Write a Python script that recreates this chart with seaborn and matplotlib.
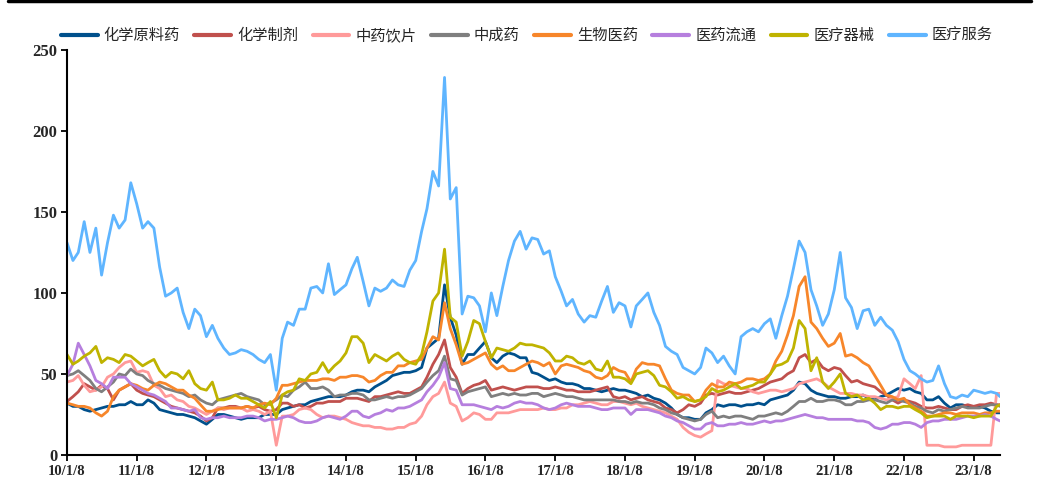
import numpy as np
import pandas as pd
import matplotlib
matplotlib.use("Agg")
import matplotlib.pyplot as plt
import seaborn as sns
from matplotlib.lines import Line2D

sns.set_theme(style="white")
plt.rcParams['font.family'] = ['Noto Sans CJK SC', 'DejaVu Sans']

# ---------------- data (monthly readings, 2010-01 .. 2023-05, plus last point) -------------
dates = list(pd.date_range("2010-01-08", periods=161, freq=pd.DateOffset(months=1))) + [pd.Timestamp("2023-05-26")]

series_names = ["化学原料药", "化学制剂", "中药饮片", "中成药", "生物医药", "医药流通", "医疗器械", "医疗服务"]
series_colors = ["#00508C", "#C0504D", "#FF9A9A", "#7F7F7F", "#F7862A", "#B67FDE", "#BFB300", "#5FB5FF"]

chem_api = [32, 30, 30, 28, 27, 28, 29, 30, 30, 31, 31, 33,
            31, 31, 34, 32, 28, 27, 26, 25, 25, 24, 23, 21,
            19, 22, 25, 25, 24, 23, 22, 23, 23, 23, 25, 25,
            25, 28, 29, 30, 31, 31, 33, 34, 35, 36, 36, 36,
            37, 39, 40, 40, 39, 42, 44, 46, 49, 50, 51, 51,
            52, 54, 66, 69, 72, 105, 85, 74, 56, 62, 62, 66,
            70, 60, 57, 61, 63, 62, 60, 60, 51, 50, 48, 46,
            47, 45, 44, 44, 43, 41, 41, 40, 39, 40, 41, 40,
            40, 39, 38, 36, 37, 35, 34, 32, 29, 25, 23, 23,
            22, 22, 26, 28, 31, 30, 31, 31, 30, 31, 31, 32,
            31, 34, 35, 36, 37, 40, 45, 44, 40, 38, 37, 36,
            36, 35, 35, 36, 36, 37, 35, 34, 36, 37, 39, 41,
            40, 41, 39, 38, 34, 34, 36, 32, 29, 31, 31, 30,
            30, 30, 29, 27, 26, 26]

chem_prep = [33, 36, 39, 44, 42, 40, 43, 41, 34, 40, 42, 44,
             40, 38, 37, 36, 34, 32, 30, 29, 28, 27, 26, 24,
             21, 23, 29, 29, 30, 30, 29, 30, 29, 30, 28, 27,
             28, 32, 32, 30, 31, 29, 30, 32, 32, 33, 33, 33,
             35, 35, 35, 34, 33, 36, 36, 37, 38, 39, 38, 38,
             40, 42, 48, 56, 62, 71, 54, 48, 38, 41, 43, 44,
             46, 40, 41, 42, 41, 40, 41, 42, 42, 42, 41, 41,
             42, 41, 40, 40, 39, 39, 39, 40, 41, 42, 36, 35,
             36, 34, 35, 36, 34, 33, 32, 29, 28, 26, 28, 31,
             30, 32, 37, 38, 37, 38, 39, 38, 38, 39, 40, 41,
             43, 45, 46, 47, 50, 52, 60, 62, 57, 59, 54, 52,
             54, 53, 49, 45, 46, 44, 43, 42, 39, 37, 34, 32,
             34, 33, 32, 30, 29, 29, 30, 29, 28, 28, 30, 31,
             30, 31, 31, 32, 31, 31]

tcm_pieces = [45, 46, 49, 43, 39, 40, 42, 48, 50, 54, 57, 58,
              51, 52, 51, 43, 41, 36, 37, 34, 33, 30, 29, 27,
              25, 27, 29, 28, 29, 29, 29, 27, 28, 27, 25, 27,
              6, 24, 24, 25, 28, 29, 28, 25, 23, 24, 24, 23,
              22, 20, 19, 18, 18, 17, 17, 16, 16, 17, 17, 19,
              20, 24, 31, 36, 38, 45, 32, 30, 21, 23, 26, 25,
              22, 22, 26, 26, 26, 27, 28, 28, 28, 28, 29, 28,
              28, 29, 29, 31, 31, 32, 33, 32, 31, 31, 33, 33,
              32, 31, 32, 30, 29, 28, 27, 26, 24, 22, 17, 14,
              12, 11, 13, 15, 46, 44, 43, 42, 41, 41, 39, 38,
              39, 40, 40, 39, 40, 41, 44, 45, 46, 47, 45, 42,
              40, 38, 38, 38, 37, 37, 36, 36, 35, 34, 35, 36,
              47, 44, 41, 49, 6, 6, 6, 5, 5, 5, 6, 6,
              6, 6, 6, 6, 38, 38]

tcm_patent = [49, 50, 52, 49, 46, 41, 39, 42, 45, 50, 49, 53,
              50, 49, 46, 44, 43, 41, 40, 39, 38, 36, 37, 34,
              32, 31, 34, 35, 36, 37, 38, 36, 35, 34, 31, 32,
              34, 37, 36, 40, 42, 45, 41, 41, 42, 40, 36, 37,
              37, 38, 38, 37, 34, 34, 35, 36, 35, 36, 36, 37,
              39, 41, 45, 49, 52, 61, 47, 46, 37, 39, 40, 41,
              42, 36, 37, 38, 37, 38, 37, 37, 38, 38, 36, 37,
              38, 37, 36, 36, 35, 34, 34, 34, 34, 34, 34, 33,
              33, 32, 33, 32, 32, 31, 29, 28, 26, 25, 23, 22,
              21, 22, 25, 27, 23, 24, 23, 24, 24, 23, 22, 24,
              24, 25, 26, 25, 27, 30, 33, 33, 35, 33, 33, 34,
              34, 33, 31, 31, 33, 33, 34, 34, 33, 32, 34, 34,
              33, 32, 30, 29, 27, 26, 28, 27, 28, 29, 30, 29,
              29, 29, 30, 31, 31, 30]

biomed = [32, 31, 30, 30, 29, 26, 24, 27, 36, 40, 42, 44,
          43, 41, 40, 43, 45, 44, 42, 40, 40, 37, 35, 31,
          27, 27, 28, 29, 29, 29, 29, 30, 29, 31, 32, 31,
          35, 43, 43, 44, 45, 46, 46, 46, 47, 47, 46, 48,
          48, 49, 49, 48, 45, 46, 49, 51, 51, 55, 55, 57,
          58, 59, 66, 73, 71, 94, 78, 68, 56, 57, 59, 61,
          63, 56, 53, 55, 52, 52, 54, 56, 58, 57, 55, 57,
          50, 55, 56, 55, 54, 52, 51, 48, 47, 49, 54, 52,
          51, 45, 53, 57, 56, 56, 55, 47, 40, 38, 37, 37,
          33, 34, 40, 44, 42, 42, 45, 44, 45, 47, 47, 46,
          47, 50, 58, 64, 74, 86, 104, 110, 82, 78, 72, 67,
          69, 75, 61, 62, 60, 57, 55, 49, 43, 37, 36, 34,
          35, 31, 29, 27, 24, 24, 25, 26, 26, 25, 26, 26,
          26, 25, 26, 26, 27, 27]

distribution = [49, 56, 69, 62, 55, 46, 44, 41, 48, 48, 48, 44,
                42, 40, 38, 37, 35, 33, 29, 29, 28, 27, 28, 23,
                22, 23, 23, 24, 23, 23, 23, 24, 24, 23, 21, 22,
                22, 23, 24, 23, 21, 20, 20, 21, 23, 24, 23, 22,
                24, 27, 27, 24, 23, 25, 26, 28, 27, 29, 29, 30,
                32, 34, 39, 43, 48, 57, 41, 40, 31, 31, 31, 30,
                29, 28, 30, 29, 30, 32, 33, 32, 32, 31, 29, 28,
                29, 31, 32, 31, 30, 30, 30, 29, 28, 28, 29, 29,
                29, 25, 28, 28, 28, 27, 26, 24, 23, 21, 20, 18,
                16, 16, 19, 20, 18, 18, 19, 19, 20, 19, 19, 20,
                21, 20, 21, 21, 22, 23, 24, 25, 24, 23, 23, 22,
                22, 22, 22, 22, 21, 21, 20, 17, 16, 17, 19, 19,
                20, 20, 19, 17, 20, 21, 21, 22, 22, 22, 23, 24,
                24, 24, 25, 24, 22, 21]

devices = [62, 56, 58, 61, 63, 67, 57, 60, 59, 57, 62, 61,
           58, 55, 57, 59, 52, 48, 51, 50, 47, 52, 44, 41,
           40, 45, 34, 34, 35, 37, 35, 35, 33, 31, 29, 33,
           23, 37, 39, 40, 47, 46, 50, 51, 57, 51, 55, 58,
           63, 73, 73, 69, 57, 62, 60, 58, 61, 63, 59, 57,
           56, 62, 76, 95, 100, 127, 85, 82, 61, 70, 83, 81,
           70, 60, 66, 65, 64, 66, 69, 68, 68, 67, 66, 63,
           58, 58, 61, 60, 57, 56, 58, 53, 52, 58, 48, 48,
           47, 44, 50, 51, 52, 49, 43, 42, 39, 35, 36, 34,
           33, 34, 36, 41, 39, 40, 42, 44, 41, 42, 43, 45,
           45, 50, 55, 56, 58, 66, 83, 78, 52, 60, 45, 41,
           45, 50, 38, 36, 37, 34, 35, 32, 28, 30, 30, 29,
           30, 30, 28, 26, 23, 24, 24, 24, 22, 24, 24, 24,
           23, 24, 24, 24, 30, 31]

services = [131, 120, 125, 144, 125, 140, 111, 131, 148, 140, 145, 168,
            155, 140, 144, 140, 116, 98, 100, 103, 88, 78, 90, 86,
            73, 80, 72, 66, 62, 63, 65, 64, 62, 59, 57, 62,
            40, 72, 82, 80, 90, 90, 103, 104, 100, 118, 99, 102,
            105, 115, 122, 107, 92, 103, 101, 103, 108, 105, 104, 114,
            120, 138, 152, 175, 166, 233, 158, 165, 87, 98, 97, 92,
            76, 100, 86, 104, 120, 132, 138, 127, 134, 133, 124, 126,
            110, 101, 92, 96, 87, 82, 86, 85, 95, 104, 88, 94,
            92, 79, 92, 96, 100, 88, 80, 67, 64, 62, 54, 52,
            50, 54, 66, 63, 57, 61, 55, 50, 73, 76, 78, 76,
            81, 84, 72, 86, 98, 115, 132, 125, 102, 92, 80, 87,
            102, 125, 97, 91, 78, 89, 90, 80, 85, 80, 77, 70,
            59, 52, 50, 47, 45, 46, 55, 44, 36, 35, 37, 36,
            40, 39, 38, 39, 38, 36]

xtick_labels = ["10/1/8", "11/1/8", "12/1/8", "13/1/8", "14/1/8", "15/1/8", "16/1/8",
                "17/1/8", "18/1/8", "19/1/8", "20/1/8", "21/1/8", "22/1/8", "23/1/8"]
ytick_values = [0, 50, 100, 150, 200, 250]

all_series = [chem_api, chem_prep, tcm_pieces, tcm_patent, biomed, distribution, devices, services]

frames = []
for name, vals in zip(series_names, all_series):
    frames.append(pd.DataFrame({"date": dates, "value": vals, "series": name}))
df = pd.concat(frames, ignore_index=True)

# ---------------- figure ----------------
fig = plt.figure(figsize=(10.39, 4.94), dpi=100)
ax = fig.add_axes([0.0645, 0.079, 0.898, 0.820])

palette = dict(zip(series_names, series_colors))
sns.lineplot(data=df, x="date", y="value", hue="series", hue_order=series_names,
             palette=palette, linewidth=2.0, estimator=None, legend=False, ax=ax)

ax.set_xlim(dates[0], dates[-1])
ax.set_ylim(0, 250)
ax.set_yticks(ytick_values)
ax.set_yticklabels([str(v) for v in ytick_values])
xticks = pd.date_range("2010-01-08", periods=len(xtick_labels), freq=pd.DateOffset(years=1))
ax.set_xticks(xticks)
ax.set_xticklabels(xtick_labels)
ax.set_xlabel("")
ax.set_ylabel("")

for s in ["top", "right"]:
    ax.spines[s].set_visible(False)
for s in ["left", "bottom"]:
    ax.spines[s].set_color("black")
    ax.spines[s].set_linewidth(1.5)

ax.tick_params(axis="both", bottom=True, left=True, direction="out", length=4,
               width=1.3, color="black", pad=3)
for lbl in ax.get_xticklabels():
    lbl.set_fontfamily("Liberation Serif")
    lbl.set_fontweight("bold")
    lbl.set_fontsize(10.5)
for lbl in ax.get_yticklabels():
    lbl.set_fontfamily("Liberation Serif")
    lbl.set_fontweight("bold")
    lbl.set_fontsize(12)

handles = [Line2D([0], [0], color=c, lw=3) for c in series_colors]
fig.legend(handles, series_names, loc="center", bbox_to_anchor=(0.507, 0.928), ncol=8,
           frameon=False, handlelength=2.4, handletextpad=0.4, columnspacing=0.95,
           prop={"family": "Noto Sans CJK SC", "size": 11})

fig.add_artist(Line2D([0.008, 0.992], [0.997, 0.997], transform=fig.transFigure,
                      color="black", lw=2.5))

fig.savefig("out.png", dpi=100)
